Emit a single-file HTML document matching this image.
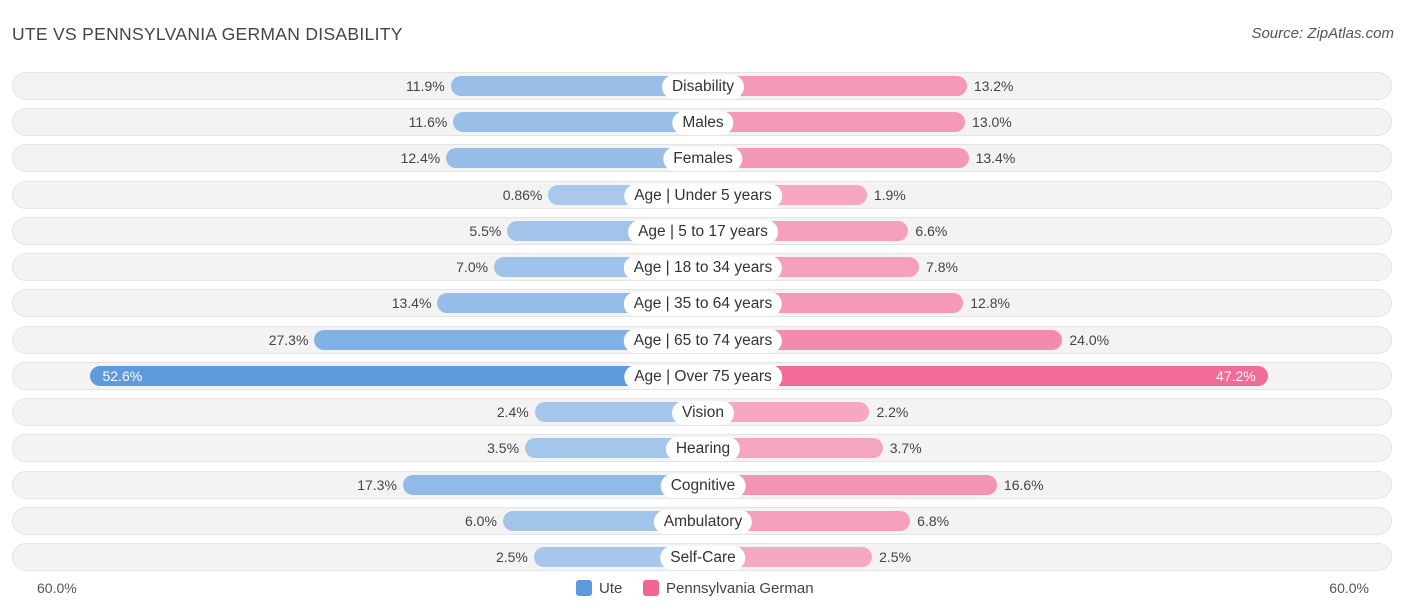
<!DOCTYPE html>
<html><head><meta charset="utf-8"><style>
body{margin:0;background:#fff;font-family:"Liberation Sans",sans-serif;}
#c{position:relative;width:1406px;height:612px;overflow:hidden;}
.t{position:absolute;white-space:nowrap;}
</style></head><body>
<div id="c">
<div class="t" style="left:12px;top:24px;font-size:17.5px;color:#444;letter-spacing:0.3px">UTE VS PENNSYLVANIA GERMAN DISABILITY</div>
<div class="t" style="right:12px;top:25px;font-size:15px;color:#555;font-style:italic">Source: ZipAtlas.com</div>
<div class="t" style="left:37px;top:580px;font-size:14px;color:#555">60.0%</div>
<div class="t" style="right:37px;top:580px;font-size:14px;color:#555">60.0%</div>
<div class="t" style="left:576px;top:580px;font-size:15px;color:#444"><span style="display:inline-block;width:16px;height:16px;background:#5d9bdc;border-radius:3px;vertical-align:-3px;margin-right:7px"></span>Ute</div>
<div class="t" style="left:643px;top:580px;font-size:15px;color:#444"><span style="display:inline-block;width:16px;height:16px;background:#f06593;border-radius:3px;vertical-align:-3px;margin-right:7px"></span>Pennsylvania German</div>
</div>
<script>
const categories=["Disability","Males","Females","Age | Under 5 years","Age | 5 to 17 years","Age | 18 to 34 years","Age | 35 to 64 years","Age | 65 to 74 years","Age | Over 75 years","Vision","Hearing","Cognitive","Ambulatory","Self-Care"];
const uteValues=[11.9,11.6,12.4,0.86,5.5,7.0,13.4,27.3,52.6,2.4,3.5,17.3,6.0,2.5];
const pgValues=[13.2,13.0,13.4,1.9,6.6,7.8,12.8,24.0,47.2,2.2,3.7,16.6,6.8,2.5];
const uteLabels=["11.9%","11.6%","12.4%","0.86%","5.5%","7.0%","13.4%","27.3%","52.6%","2.4%","3.5%","17.3%","6.0%","2.5%"];
const pgLabels=["13.2%","13.0%","13.4%","1.9%","6.6%","7.8%","12.8%","24.0%","47.2%","2.2%","3.7%","16.6%","6.8%","2.5%"];
const C=703,Y0=86,DY=36.23;
function len(v){return 147+v*8.85;}
function mix(a,b,t){return 'rgb('+a.map((x,i)=>Math.round(x+(b[i]-x)*t)).join(',')+')';}
const c=document.getElementById('c');
const maxV=Math.max(...uteValues,...pgValues);
categories.forEach((cat,i)=>{
  const y=Y0+i*DY;
  const bg=document.createElement('div');
  
  
  bg.style.cssText=`position:absolute;left:12px;width:1380px;top:${y-14}px;height:28px;border-radius:14px;background:#f3f3f3;box-shadow:inset 0 0 0 1px #e4e4e4;`;
  c.appendChild(bg);
  const u=uteValues[i],p=pgValues[i];
  const lu=len(u),lp=len(p);
  const bu=document.createElement('div');
  
  
  bu.style.cssText=`position:absolute;left:${C-lu}px;width:${lu}px;top:${y-10}px;height:20px;border-radius:10px 0 0 10px;background:${mix([170,201,236],[93,155,220],u/maxV)};`;
  c.appendChild(bu);
  const bp=document.createElement('div');
  
  
  bp.style.cssText=`position:absolute;left:${C}px;width:${lp}px;top:${y-10}px;height:20px;border-radius:0 10px 10px 0;background:${mix([246,170,196],[240,101,147],p/maxV)};`;
  c.appendChild(bp);
  const inside=u>40;
  const tu=document.createElement('div');
  
  
  tu.className='t';tu.textContent=uteLabels[i];
  tu.style.cssText+=inside?`left:${C-lu+12}px;top:${y-8}px;font-size:14px;color:#fff;`:`right:${1406-(C-lu)+6}px;top:${y-8}px;font-size:14px;color:#444;`;
  c.appendChild(tu);
  const insideP=p>40;
  const tp=document.createElement('div');
  
  
  tp.className='t';tp.textContent=pgLabels[i];
  tp.style.cssText+=insideP?`right:${1406-(C+lp)+12}px;top:${y-8}px;font-size:14px;color:#fff;`:`left:${C+lp+7}px;top:${y-8}px;font-size:14px;color:#444;`;
  c.appendChild(tp);
  const lb=document.createElement('div');
  
  
  lb.className='t';lb.textContent=cat;
  lb.style.cssText+=`left:${C}px;top:${y-11}px;transform:translateX(-50%);height:24px;line-height:24px;padding:0 10px;border-radius:12px;background:#fff;font-size:15.5px;color:#333;`;
  c.appendChild(lb);
});
</script>
</body></html>
